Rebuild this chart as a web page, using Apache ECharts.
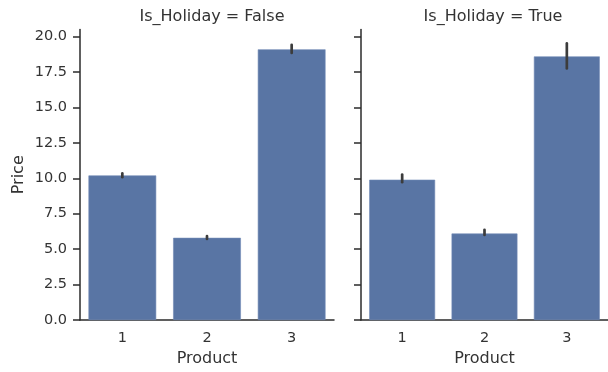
<!DOCTYPE html>
<html>
<head>
<meta charset="utf-8">
<script src="https://cdn.jsdelivr.net/npm/echarts@6/dist/echarts.min.js"></script>
<style>
  html, body { margin: 0; padding: 0; background: #fff; }
  #chart { width: 608px; height: 372px; }
</style>
</head>
<body>
<div id="chart"></div>
<script>
// Mean price per product, split by holiday flag, with 95% CI bounds
const products = ['1', '2', '3'];
const panelTitles = ['Is_Holiday = False', 'Is_Holiday = True'];
const priceNoHoliday = [10.2, 5.8, 19.1];
const ciLowNoHoliday = [10.08, 5.72, 18.85];
const ciHighNoHoliday = [10.34, 5.92, 19.42];
const priceHoliday = [9.9, 6.1, 18.6];
const ciLowHoliday = [9.72, 6.0, 17.75];
const ciHighHoliday = [10.26, 6.36, 19.52];
const yTicks = [0, 2.5, 5, 7.5, 10, 12.5, 15, 17.5, 20];

const FONT = 'DejaVu Sans';
const TEXT = '#333333';
const AXIS = '#2b2b2b';
const BAR = '#5975a4';
const LABEL_SIZE = 16;
const TICK_SIZE = 14.5;

const chart = echarts.init(document.getElementById('chart'));

const grids = [
  { left: 80, top: 29.5, width: 254, height: 290.5 },
  { left: 361, top: 29.5, width: 254, height: 290.5 }
];

function xAxis(i) {
  return {
    type: 'category', gridIndex: i, data: products,
    name: 'Product', nameLocation: 'middle', nameGap: 30,
    nameTextStyle: { fontFamily: FONT, fontSize: LABEL_SIZE, color: TEXT },
    axisLine: { lineStyle: { color: AXIS, width: 1.5 } },
    axisTick: { alignWithLabel: true, length: 7, lineStyle: { color: AXIS, width: 1.5 } },
    axisLabel: { fontFamily: FONT, fontSize: TICK_SIZE, color: TEXT, margin: 11 },
    splitLine: { show: false }
  };
}

function yAxis(i) {
  return {
    type: 'value', gridIndex: i, min: 0, max: 20.5,
    name: i === 0 ? 'Price' : '', nameLocation: 'middle', nameGap: 53, nameRotate: 90,
    nameTextStyle: { fontFamily: FONT, fontSize: LABEL_SIZE, color: TEXT },
    axisLine: { show: true, lineStyle: { color: AXIS, width: 1.5 } },
    axisTick: { show: true, length: 7, customValues: yTicks, lineStyle: { color: AXIS, width: 1.5 } },
    axisLabel: {
      show: i === 0, customValues: yTicks, fontFamily: FONT, fontSize: TICK_SIZE, color: TEXT, margin: 13,
      formatter: v => v.toFixed(1)
    },
    splitLine: { show: false }
  };
}

function bars(i, values) {
  return {
    type: 'bar', xAxisIndex: i, yAxisIndex: i, data: values,
    barCategoryGap: '20%',
    itemStyle: { color: BAR, borderColor: '#7189b5', borderWidth: 0.6 },
    silent: true, z: 2
  };
}

function errorBars(i, lows, highs) {
  return {
    type: 'custom', xAxisIndex: i, yAxisIndex: i,
    data: products.map((p, k) => [k, lows[k], highs[k]]),
    renderItem: function (params, api) {
      const lo = api.coord([api.value(0), api.value(1)]);
      const hi = api.coord([api.value(0), api.value(2)]);
      return {
        type: 'line',
        shape: { x1: lo[0], y1: lo[1], x2: hi[0], y2: hi[1] },
        style: { stroke: '#3c3c3c', lineWidth: 2.7, lineCap: 'round' }
      };
    },
    silent: true, z: 5
  };
}

chart.setOption({
  animation: false,
  backgroundColor: '#ffffff',
  title: panelTitles.map((t, i) => ({
    text: t, left: grids[i].left + 127, top: 4, textAlign: 'center',
    textStyle: { fontFamily: FONT, fontSize: LABEL_SIZE, fontWeight: 'normal', color: TEXT }
  })),
  grid: grids,
  xAxis: [xAxis(0), xAxis(1)],
  yAxis: [yAxis(0), yAxis(1)],
  series: [
    bars(0, priceNoHoliday),
    errorBars(0, ciLowNoHoliday, ciHighNoHoliday),
    bars(1, priceHoliday),
    errorBars(1, ciLowHoliday, ciHighHoliday)
  ]
});
</script>
</body>
</html>
